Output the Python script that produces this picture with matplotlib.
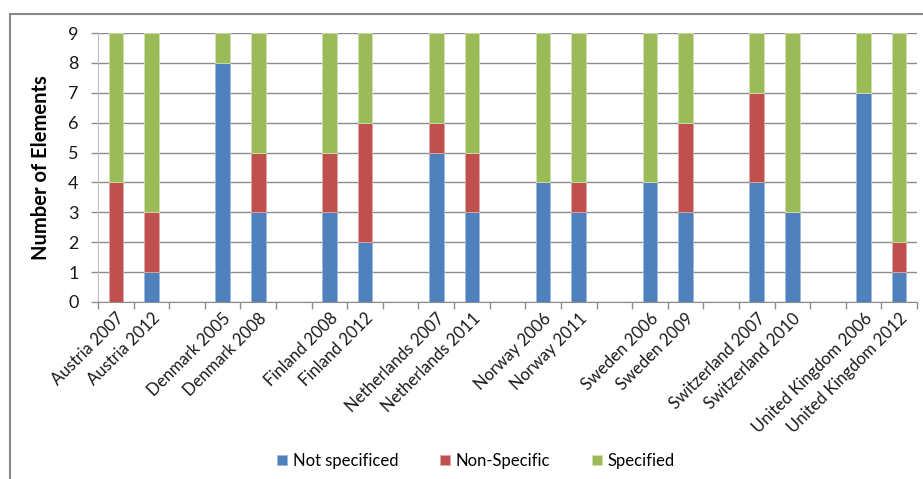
import matplotlib
matplotlib.use('Agg')
import matplotlib.pyplot as plt
from matplotlib.patches import Rectangle
import numpy as np

plt.rcParams['font.family'] = ['Lato', 'DejaVu Sans']

# blank entries leave an empty slot between the countries
categories = ['Austria 2007', 'Austria 2012', '',
              'Denmark 2005', 'Denmark 2008', '',
              'Finland 2008', 'Finland 2012', '',
              'Netherlands 2007', 'Netherlands 2011', '',
              'Norway 2006', 'Norway 2011', '',
              'Sweden 2006', 'Sweden 2009', '',
              'Switzerland 2007', 'Switzerland 2010', '',
              'United Kingdom 2006', 'United Kingdom 2012']
not_specified = [0, 1, 0, 8, 3, 0, 3, 2, 0, 5, 3, 0, 4, 3, 0, 4, 3, 0, 4, 3, 0, 7, 1]
non_specific  = [4, 2, 0, 0, 2, 0, 2, 4, 0, 1, 2, 0, 0, 1, 0, 0, 3, 0, 3, 0, 0, 0, 1]
specified     = [5, 6, 0, 1, 4, 0, 4, 3, 0, 3, 4, 0, 5, 5, 0, 5, 3, 0, 2, 6, 0, 2, 7]

series = [('Not specificed', not_specified, '#4F81BD', '#9DB9DC'),
          ('Non-Specific', non_specific, '#C0504D', '#E0A8A6'),
          ('Specified', specified, '#9BBB59', '#CFE0B0')]

fig = plt.figure(figsize=(9.23, 4.79), dpi=100)
W, H = 923, 479
ax = fig.add_axes([98 / W, 1 - 302 / H, (917 - 98) / W, (302 - 33) / H])

x = np.arange(len(categories))
bottom = np.zeros(len(categories))
for name, vals, col, edge in series:
    vals = np.array(vals, dtype=float)
    ax.bar(x, vals, width=0.41, bottom=bottom, color=col, edgecolor=edge,
           linewidth=0.6, label=name, zorder=3)
    bottom += vals

ax.set_xlim(-0.5, len(categories) - 0.5)
ax.set_ylim(0, 9)
ax.set_yticks(range(10))
ax.yaxis.grid(True, color='#8C8C8C', linewidth=1.0, zorder=0)
ax.tick_params(axis='y', length=5, width=1, color='#8C8C8C', labelsize=13,
               labelcolor='#1A1A1A', pad=9)

ax.set_xticks(x)
ax.set_xticklabels(categories, rotation=45, ha='right', rotation_mode='anchor',
                   fontsize=12, color='#1A1A1A')
ax.tick_params(axis='x', which='major', length=0, pad=6)
ax.set_xticks(np.arange(-0.5, len(categories)), minor=True)
ax.tick_params(axis='x', which='minor', length=5, width=1, color='#8C8C8C')

for side in ['top', 'right']:
    ax.spines[side].set_visible(False)
ax.spines['left'].set_color('#BFBFBF')
ax.spines['bottom'].set_color('#8C8C8C')

ax.set_ylabel('Number of Elements', fontsize=14.5, fontweight='bold', labelpad=12)

fig.legend(loc='center', bbox_to_anchor=(476 / W, 1 - 461 / H), ncol=3,
           frameon=False, fontsize=12, handlelength=0.6, handleheight=0.6,
           handletextpad=0.35, columnspacing=2.5)

# chart border
fig.patches.append(Rectangle((10 / W, -0.05), 1.1, 1 - 14 / H + 0.05,
                             transform=fig.transFigure, fill=False,
                             edgecolor='#8A8A8A', linewidth=1.5))

fig.savefig('out.png', dpi=100)
